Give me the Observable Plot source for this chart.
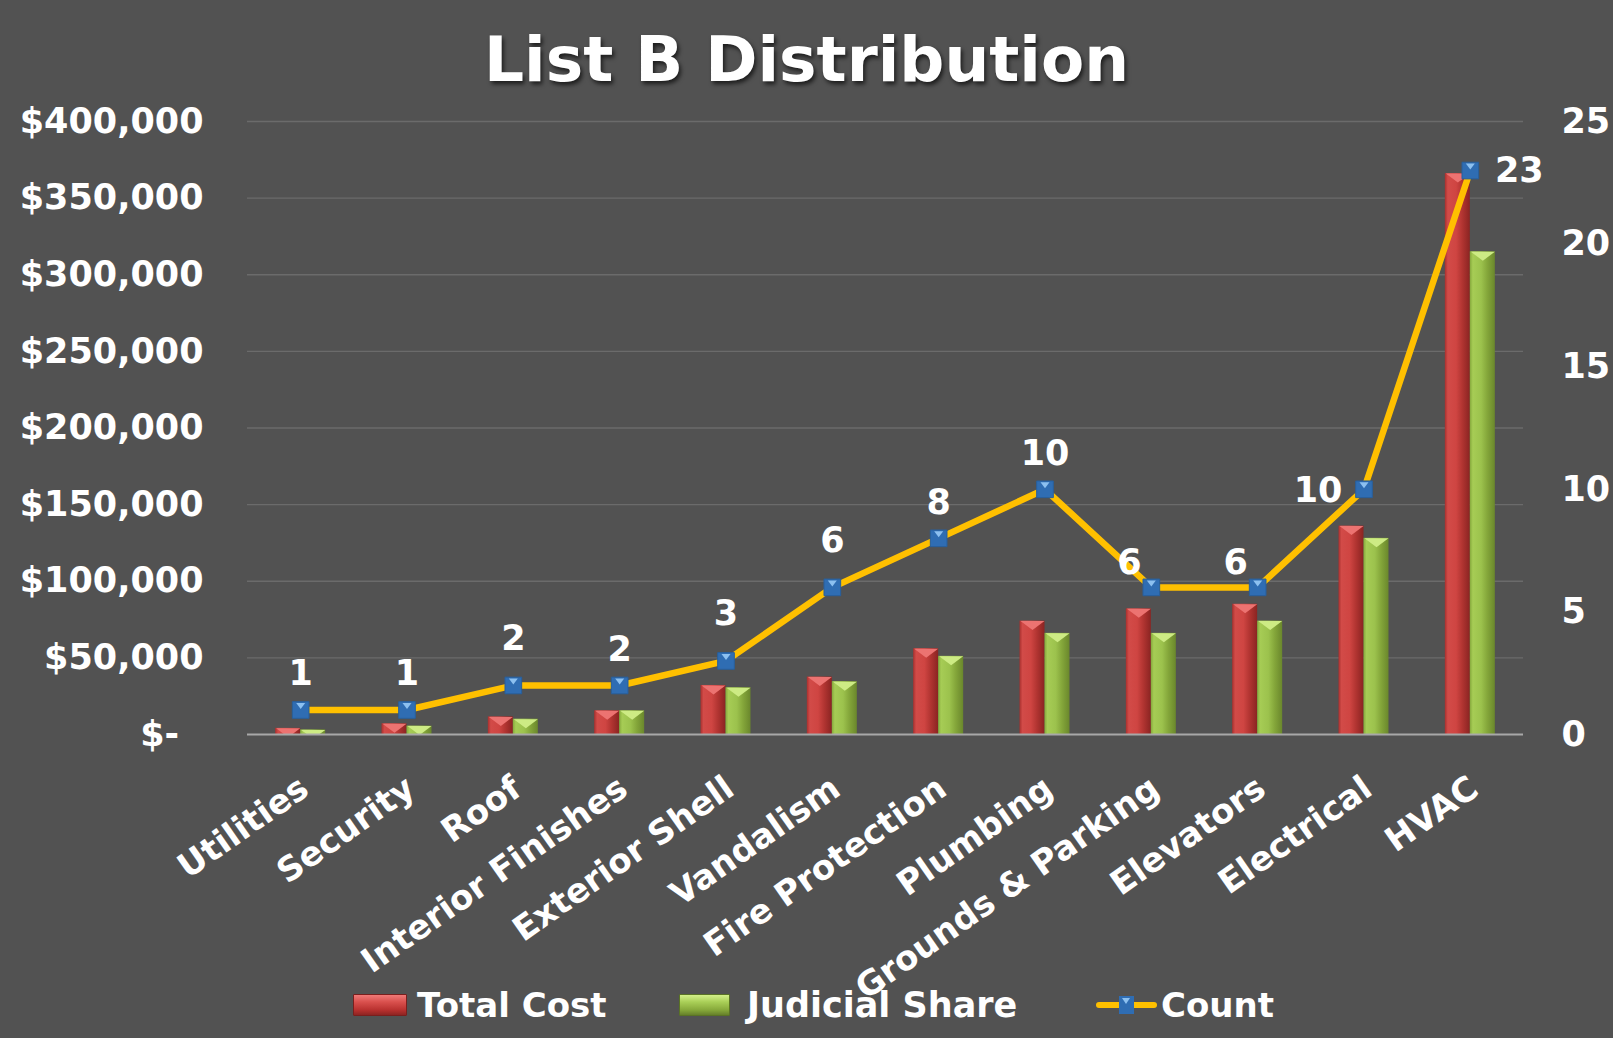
<!DOCTYPE html>
<html>
<head>
<meta charset="utf-8">
<script src="https://cdn.jsdelivr.net/npm/d3@7"></script>
<script src="https://cdn.jsdelivr.net/npm/@observablehq/plot@0.6"></script>
<style>
  html, body { margin: 0; padding: 0; background: #525252; }
  #wrap { position: relative; width: 1613px; height: 1038px; background: #525252; overflow: hidden;
          font-family: "DejaVu Sans", Verdana, sans-serif; font-weight: bold; color: #fff; }
  #chart { position: absolute; left: 0; top: 0; }
  #title { position: absolute; left: 0; top: 28px; width: 1613px; text-align: center; font-size: 63px;
           line-height: 63px; text-shadow: 2px 3px 4px rgba(0,0,0,0.65); z-index: 2; }
  .lg { position: absolute; top: 985px; display: flex; align-items: center; font-size: 34px; height: 40px; z-index: 2; }
  .sw { width: 54px; height: 22px; margin-right: 10px; box-sizing: border-box; border-radius: 1px; }
  .sw.red { background: linear-gradient(to bottom, #f07a78 0%, #d9504d 35%, #b8312f 75%, #8e2422 100%); border: 1px solid #7a1f1d; }
  .sw.green { width: 51px; margin-right: 17px; background: linear-gradient(to bottom, #d4f08a 0%, #a9cf57 35%, #86a83a 75%, #66802a 100%); border: 1px solid #5a7325; }
  .cnt { position: relative; width: 61px; height: 22px; margin-right: 4px; }
  .cnt .ln { position: absolute; left: 0; top: 8px; width: 61px; height: 6px; background: #FFC000; border-radius: 3px; }
  .cnt .mk { position: absolute; left: 23px; top: 2px; width: 15px; height: 18px; background: #2f6db3; }
  .cnt .mk::after { content: ""; position: absolute; left: 3px; top: 2px; border-left: 4.5px solid transparent;
                    border-right: 4.5px solid transparent; border-top: 6px solid #8cc0f0; }
</style>
</head>
<body>
<div id="wrap">
  <div id="title">List B Distribution</div>
  <div id="chart"></div>
  <div class="lg" style="left:353px"><div class="sw red"></div><span>Total Cost</span></div>
  <div class="lg" style="left:679px;font-size:35px"><div class="sw green"></div><span>Judicial Share</span></div>
  <div class="lg" style="left:1096px"><div class="cnt"><div class="ln"></div><div class="mk"></div></div><span>Count</span></div>
</div>
<script>
// ---- data ----
const categories = ["Utilities", "Security", "Roof", "Interior Finishes", "Exterior Shell", "Vandalism",
  "Fire Protection", "Plumbing", "Grounds & Parking", "Elevators", "Electrical", "HVAC"];
const totalCost = [4000, 7000, 11500, 15500, 32000, 37500, 56000, 74000, 82000, 85000, 136000, 366000];
const judicialShare = [3000, 5500, 10000, 15500, 30500, 34500, 51000, 66000, 66000, 74000, 128000, 315000];
const counts = [1, 1, 2, 2, 3, 6, 8, 10, 6, 6, 10, 23];
const costTicks = [0, 50000, 100000, 150000, 200000, 250000, 300000, 350000, 400000];
const countTicks = [0, 5, 10, 15, 20, 25];

// label placement groups (by category)
const labelHigh = ["Roof", "Exterior Shell", "Vandalism"];
const labelUpLeft = ["Grounds & Parking", "Elevators"];
const labelLeft = ["Electrical"];
const labelRight = ["HVAC"];

// ---- table ----
const rows = categories.map((c, i) => ({category: c, total: totalCost[i], judicial: judicialShare[i], count: counts[i]}));
const k = costTicks[costTicks.length - 1] / countTicks[countTicks.length - 1]; // secondary-axis mapping

const W = 1613, H = 1038, mL = 247, mR = 90, mT = 121, mB = 304;
const bw = (W - mL - mR) / categories.length;
const barW = 25;

const topTri = {draw(ctx) { ctx.moveTo(-12, 0); ctx.lineTo(12, 0); ctx.lineTo(0, 9); ctx.closePath(); }};
const markTri = {draw(ctx) { ctx.moveTo(-4.5, -7); ctx.lineTo(4.5, -7); ctx.lineTo(0, -1); ctx.closePath(); }};

const labelStyle = {x: "category", y: d => d.count * k, text: d => String(d.count), fill: "white", fontSize: 35, fontWeight: "bold"};
const inGroup = (g) => d => g.includes(d.category);
const isDefault = d => ![...labelHigh, ...labelUpLeft, ...labelLeft, ...labelRight].includes(d.category);

const plot = Plot.plot({
  width: W, height: H,
  marginLeft: mL, marginRight: mR, marginTop: mT, marginBottom: mB,
  style: {background: "transparent", color: "white", fontFamily: "DejaVu Sans, Verdana, sans-serif", fontWeight: "bold", overflow: "visible"},
  x: {type: "band", domain: categories, padding: 0, round: false, axis: null, label: null},
  y: {domain: [0, costTicks[costTicks.length - 1]], label: null},
  marks: [
    Plot.gridY(costTicks.slice(1), {stroke: "#6b6b6b", strokeOpacity: 1, strokeWidth: 1.3}),
    Plot.axisY(costTicks, {anchor: "left", tickSize: 0, tickPadding: 44, fontSize: 35, fontWeight: "bold", fill: "white",
      label: null, tickFormat: d => d === 0 ? "$-\u00a0\u00a0" : "$" + d3.format(",")(d)}),
    Plot.axisY(countTicks.map(c => c * k), {anchor: "right", tickSize: 0, tickPadding: 38, fontSize: 35, fontWeight: "bold",
      fill: "white", label: null, tickFormat: d => String(Math.round(d / k))}),
    Plot.barY(rows, {x: "category", y: "total", fill: "url(#gradRed)", insetLeft: bw / 2 - barW, insetRight: bw / 2}),
    Plot.barY(rows, {x: "category", y: "judicial", fill: "url(#gradGreen)", insetLeft: bw / 2, insetRight: bw / 2 - barW}),
    Plot.dot(rows, {x: "category", y: "total", symbol: topTri, r: 5, fill: "#ec7371", stroke: "none", dx: -barW / 2, clip: true}),
    Plot.dot(rows, {x: "category", y: "judicial", symbol: topTri, r: 5, fill: "#cdeb84", stroke: "none", dx: barW / 2, clip: true}),
    Plot.ruleY([0], {stroke: "#a8a8a8", strokeWidth: 2}),
    Plot.line(rows, {x: "category", y: d => d.count * k, stroke: "#FFC000", strokeWidth: 6.5, strokeLinejoin: "round"}),
    Plot.dot(rows, {x: "category", y: d => d.count * k, symbol: "square", r: 9.4, fill: "#2f6db3", stroke: "#285f9c", strokeWidth: 1}),
    Plot.dot(rows, {x: "category", y: d => d.count * k, symbol: markTri, r: 5, fill: "#8cc0f0", stroke: "none"}),
    Plot.text(rows, {...labelStyle, filter: isDefault, dy: -36}),
    Plot.text(rows, {...labelStyle, filter: inGroup(labelHigh), dy: -47}),
    Plot.text(rows, {...labelStyle, filter: inGroup(labelUpLeft), dx: -22, dy: -25}),
    Plot.text(rows, {...labelStyle, filter: inGroup(labelLeft), dx: -46, dy: 1}),
    Plot.text(rows, {...labelStyle, filter: inGroup(labelRight), dx: 49, dy: 0}),
    Plot.text(categories, {x: d => d, text: d => d, frameAnchor: "bottom", rotate: -35, textAnchor: "end",
      lineAnchor: "middle", dx: 4, dy: 50, fontSize: 34, fontWeight: "bold", fill: "white"})
  ]
});

// gradients for the bevelled bars
const defs = d3.select(plot).insert("defs", ":first-child");
function grad(id, stops) {
  const g = defs.append("linearGradient").attr("id", id).attr("x1", 0).attr("x2", 1).attr("y1", 0).attr("y2", 0);
  stops.forEach(([o, c]) => g.append("stop").attr("offset", o).attr("stop-color", c));
}
grad("gradRed", [["0%", "#a8302e"], ["12%", "#d24b48"], ["45%", "#cf4542"], ["70%", "#b13431"], ["100%", "#8a2422"]]);
grad("gradGreen", [["0%", "#85a83c"], ["12%", "#a6cc55"], ["45%", "#9cc24d"], ["70%", "#84a63a"], ["100%", "#6a872c"]]);

document.getElementById("chart").appendChild(plot);
</script>
</body>
</html>
